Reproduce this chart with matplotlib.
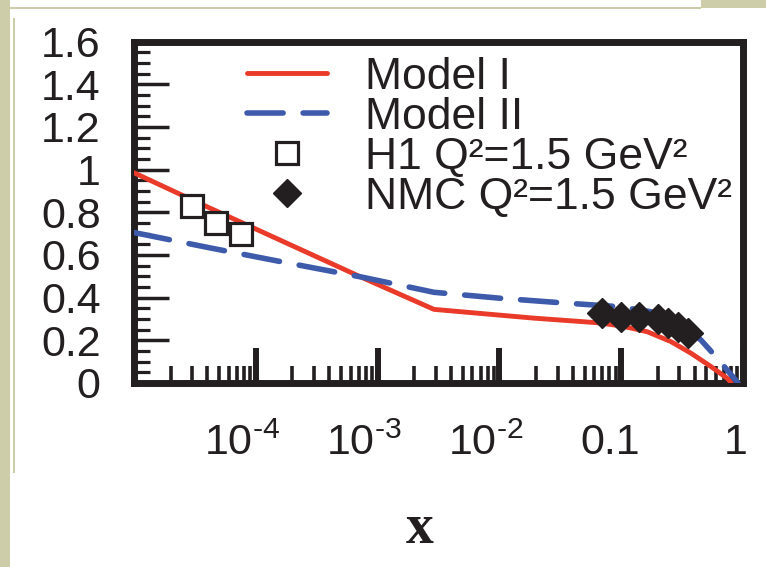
import matplotlib
matplotlib.use('Agg')
import matplotlib.pyplot as plt
from matplotlib.patches import Rectangle
from matplotlib.ticker import FixedLocator, LogLocator, NullFormatter, MultipleLocator
import matplotlib.transforms as mtrans

# ---- data ----
model1_x = [1e-5, 3.6e-5, 7.2e-4, 2.9e-3, 0.0191, 0.0466, 0.0679, 0.105, 0.164, 0.256, 0.373, 0.546, 0.75, 0.80]
model1_y = [0.985, 0.837, 0.498, 0.345, 0.304, 0.288, 0.281, 0.265, 0.240, 0.194, 0.140, 0.077, 0.020, 0.0]

model2_x = [1e-5, 3.96e-5, 1.59e-4, 7.6e-4, 2.9e-3, 0.0102, 0.0319, 0.0937, 0.175, 0.327, 0.452, 0.600, 0.843, 0.91]
model2_y = [0.705, 0.636, 0.569, 0.495, 0.425, 0.397, 0.376, 0.358, 0.334, 0.264, 0.201, 0.123, 0.023, 0.0]

h1_x = [3.0e-5, 4.7e-5, 7.6e-5]
h1_y = [0.829, 0.751, 0.700]

nmc_x = [0.070, 0.099, 0.140, 0.199, 0.240, 0.290, 0.351]
nmc_y = [0.327, 0.311, 0.308, 0.298, 0.283, 0.264, 0.233]

xtick_vals = [1e-4, 1e-3, 1e-2, 0.1, 1]
xtick_labels = [r'10$^{\text{-}4}$', r'10$^{\text{-}3}$', r'10$^{\text{-}2}$', '0.1', '1']
ytick_vals = [0, 0.2, 0.4, 0.6, 0.8, 1.0, 1.2, 1.4, 1.6]
ytick_labels = ['0', '0.2', '0.4', '0.6', '0.8', '1', '1.2', '1.4', '1.6']

labels = ['Model I', 'Model II', 'H1 Q²=1.5 GeV²', 'NMC Q²=1.5 GeV²']

# ---- style ----
INK = '#231f20'
RED = '#ea3b2a'
BLUE = '#3d5aab'
BEIGE = '#cdcda9'

plt.rcParams['font.family'] = ['Liberation Sans', 'DejaVu Sans']
plt.rcParams['mathtext.fontset'] = 'custom'
plt.rcParams['mathtext.rm'] = 'Liberation Sans'
plt.rcParams['mathtext.it'] = 'Liberation Sans:italic'
plt.rcParams['mathtext.bf'] = 'Liberation Sans:bold'
plt.rcParams['mathtext.default'] = 'regular'

W, H = 766, 567
fig = plt.figure(figsize=(W / 100, H / 100), dpi=100, facecolor='white')

def px_rect(x0, y0, x1, y1):
    return Rectangle((x0 / W, 1 - y1 / H), (x1 - x0) / W, (y1 - y0) / H,
                     transform=fig.transFigure, facecolor=BEIGE, edgecolor='none', zorder=-10)

fig.patches.extend([
    px_rect(0, 0, 10, H),
    px_rect(13, 18, 15, 473),
    px_rect(10, 7, 701, 9),
    px_rect(701, 0, W, 8),
])

ax = fig.add_axes([134 / W, 1 - 383 / H, (743 - 134) / W, (383 - 41.5) / H])
ax.set_xscale('log')
ax.set_xlim(1e-5, 1)
ax.set_ylim(0, 1.6)

l1, = ax.plot(model1_x, model1_y, color=RED, lw=3.5, solid_capstyle='round',
              solid_joinstyle='round', zorder=3)
l2, = ax.plot(model2_x, model2_y, color=BLUE, lw=4.0, dashes=(6.5, 3.6),
              dash_capstyle='round', zorder=3)
s1, = ax.plot(h1_x, h1_y, ls='none', marker='s', ms=16, mfc='white', mec=INK, mew=2.3, zorder=4)
s2, = ax.plot(nmc_x, nmc_y, ls='none', marker='D', ms=15, mfc=INK, mec=INK, mew=1, zorder=5)

for sp in ax.spines.values():
    sp.set_linewidth(5)
    sp.set_color(INK)

ax.xaxis.set_major_locator(FixedLocator(xtick_vals))
ax.set_xticklabels(xtick_labels)
ax.xaxis.set_minor_locator(LogLocator(base=10, subs=[2, 3, 4, 5, 6, 7, 8, 9], numticks=20))
ax.xaxis.set_minor_formatter(NullFormatter())
ax.yaxis.set_major_locator(FixedLocator(ytick_vals))
ax.set_yticklabels(ytick_labels)
ax.yaxis.set_minor_locator(MultipleLocator(0.05))

ax.tick_params(which='both', direction='in', top=False, right=False, color=INK,
               labelcolor=INK, labelsize=31)
ax.tick_params(axis='x', which='major', length=25, width=4.3, pad=29)
ax.tick_params(axis='x', which='minor', length=12, width=2.6)
ax.tick_params(axis='y', which='major', length=25, width=2.5, pad=24)
ax.tick_params(axis='y', which='minor', length=11.5, width=2.3)

label_shift_px = [-14, -14, -14, -11, -7]
for lab, dx in zip(ax.get_xticklabels(), label_shift_px):
    lab.set_transform(lab.get_transform() +
                      mtrans.ScaledTranslation(dx / 100, 0, fig.dpi_scale_trans))

leg = ax.legend([l1, l2, s1, s2], labels, loc='upper left',
                bbox_to_anchor=((247 - 134) / 609, 0.956), frameon=False,
                fontsize=32, handlelength=1.8, handletextpad=0.85,
                labelspacing=-0.02, borderpad=0, borderaxespad=0, markerscale=0.95)
for t in leg.get_texts():
    t.set_color(INK)

fig.text(420 / W, 1 - 529 / H, 'x', family=['Liberation Serif', 'DejaVu Serif'],
         fontsize=40, weight='bold', ha='center', va='center', color=INK)

fig.savefig('out.png', dpi=100, facecolor='white')
